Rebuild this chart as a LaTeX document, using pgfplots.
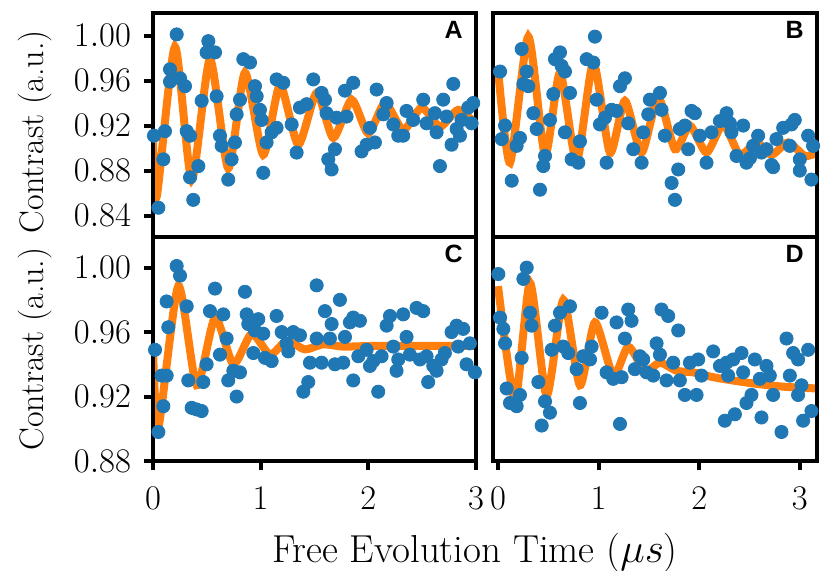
\documentclass[border=0pt]{standalone}
\usepackage{fontspec}
\newfontfamily\panelfont{Liberation Sans}
\usepackage{pgfplots}
\pgfplotsset{compat=1.18}

\definecolor{tabblue}{HTML}{1F77B4}
\definecolor{taborange}{HTML}{FF7F0E}

\pgfplotsset{
  panel/.style={
    scale only axis,
    height=112pt,
    axis line style={line width=2pt},
    tick align=outside,
    tick pos=left,
    major tick length=4.5pt,
    major tick style={black, line width=2pt},
    tick label style={font=\fontsize{18}{21}\selectfont},
    label style={font=\fontsize{17}{20}\selectfont},
    y tick label style={xshift=-3pt, /pgf/number format/fixed,
      /pgf/number format/fixed zerofill, /pgf/number format/precision=2},
    x tick label style={yshift=-5pt},
    ylabel shift=4pt,
    axis on top,
    clip=true,
  },
  leftcol/.style={width=161.5pt, xmin=0, xmax=3, xtick={0,1,2,3}},
  rightcol/.style={width=162pt, xmin=-0.05, xmax=3.17, xtick={0,1,2,3}, ytick=\empty},
  toprow/.style={ymin=0.821, ymax=1.020, ytick={0.84,0.88,0.92,0.96,1.00}, xtick=\empty},
  botrow/.style={ymin=0.88, ymax=1.019, ytick={0.88,0.92,0.96,1.00}},
  dots/.style={only marks, mark=*, mark size=3.3pt, color=tabblue,
    mark options={draw=tabblue, fill=tabblue}},
  fit/.style={taborange, line width=4pt, smooth, tension=0.4, no marks},
}
\newcommand{\plabel}[1]{\node[anchor=north east, inner sep=0pt, xshift=-6.5pt, yshift=-3.8pt,
  font=\panelfont\bfseries\fontsize{12.5}{14}\selectfont] at (rel axis cs:1,1) {#1};}

\begin{document}
\begin{tikzpicture}
\path[use as bounding box] (-76.5pt,-54.5pt) rectangle (334pt,230.5pt);

% C
\begin{axis}[panel, leftcol, botrow, at={(0pt,0pt)}, anchor=south west,
  ylabel={Contrast (a.u.)}]
\addplot[dots] coordinates {
(0.019,0.949)(0.050,0.898)(0.096,0.914)(0.080,0.933)(0.127,0.979)(0.142,0.963)(0.127,0.933)
(0.220,1.001)(0.251,0.995)(0.313,0.976)(0.328,0.930)(0.359,0.913)(0.405,0.912)(0.452,0.911)
(0.467,0.929)(0.498,0.940)(0.529,0.973)(0.576,0.987)(0.622,0.946)(0.653,0.971)(0.684,0.956)
(0.699,0.930)(0.746,0.936)(0.808,0.935)(0.777,0.920)(0.854,0.985)(0.870,0.971)(0.885,0.965)
(0.932,0.947)(0.947,0.961)(0.978,0.968)(1.024,0.959)(1.040,0.944)(1.102,0.942)(1.148,0.970)
(1.195,0.960)(1.241,0.953)(1.257,0.948)(1.303,0.960)(1.365,0.958)(1.396,0.923)(1.442,0.929)
(1.458,0.941)(1.520,0.956)(1.520,0.989)(1.566,0.941)(1.597,0.973)(1.643,0.956)(1.659,0.965)
(1.690,0.940)(1.736,0.980)(1.767,0.941)(1.783,0.957)(1.829,0.966)(1.860,0.969)(1.922,0.967)
(1.860,0.930)(1.907,0.945)(1.984,0.949)(2.015,0.939)(2.046,0.942)(2.092,0.923)(2.123,0.945)
(2.170,0.964)(2.201,0.970)(2.324,0.971)(2.232,0.951)(2.278,0.943)(2.262,0.936)(2.355,0.957)
(2.386,0.946)(2.448,0.975)(2.510,0.973)(2.479,0.943)(2.541,0.945)(2.556,0.929)(2.603,0.939)
(2.634,0.936)(2.680,0.943)(2.711,0.947)(2.773,0.960)(2.820,0.964)(2.835,0.951)(2.881,0.962)
(2.912,0.940)(2.943,0.953)(2.990,0.935)
};
\addplot[fit] coordinates {
(0.000,0.949)(0.050,0.901)(0.235,0.9885)(0.405,0.927)(0.576,0.969)(0.746,0.940)(0.916,0.959)
(1.086,0.946)(1.241,0.9545)(1.411,0.9493)(1.582,0.9524)(1.767,0.951)(2.046,0.9514)(2.500,0.9514)
(3.000,0.9514)
};
\plabel{C}
\end{axis}

% A
\begin{axis}[panel, leftcol, toprow, at={(0pt,112pt)}, anchor=south west,
  ylabel={Contrast (a.u.)}, ylabel style={at={(ticklabel cs:0.47)}}]
\addplot[dots] coordinates {
(0.220,1.001)(0.158,0.970)(0.158,0.959)(0.251,0.962)(0.297,0.955)(0.111,0.915)(0.096,0.890)
(0.050,0.847)(0.009,0.911)(0.374,0.854)(0.344,0.874)(0.421,0.884)(0.313,0.915)(0.344,0.911)
(0.452,0.942)(0.514,0.995)(0.498,0.985)(0.576,0.985)(0.591,0.946)(0.622,0.911)(0.638,0.902)
(0.699,0.872)(0.730,0.890)(0.761,0.905)(0.808,0.943)(0.777,0.930)(0.839,0.979)(0.901,0.976)
(0.947,0.955)(0.963,0.946)(0.993,0.934)(1.009,0.925)(1.024,0.878)(1.055,0.905)(1.102,0.914)
(1.148,0.961)(1.210,0.958)(1.148,0.918)(1.288,0.921)(1.334,0.896)(1.365,0.936)(1.427,0.939)
(1.489,0.961)(1.566,0.949)(1.597,0.943)(1.612,0.931)(1.628,0.890)(1.659,0.881)(1.690,0.899)
(1.705,0.927)(1.783,0.951)(1.860,0.958)(1.798,0.928)(1.937,0.897)(1.984,0.903)(2.061,0.905)
(2.015,0.918)(2.077,0.952)(2.139,0.930)(2.170,0.940)(2.232,0.921)(2.278,0.911)(2.324,0.911)
(2.355,0.933)(2.417,0.925)(2.510,0.943)(2.541,0.922)(2.618,0.931)(2.634,0.914)(2.665,0.884)
(2.696,0.943)(2.727,0.928)(2.773,0.903)(2.789,0.957)(2.820,0.917)(2.851,0.911)(2.866,0.925)
(2.928,0.936)(2.959,0.922)(2.974,0.940)
};
\addplot[fit] coordinates {
(0.000,0.905)(0.035,0.857)(0.204,0.990)(0.359,0.872)(0.529,0.979)(0.699,0.882)(0.854,0.967)
(1.024,0.894)(1.179,0.956)(1.349,0.903)(1.520,0.949)(1.674,0.909)(1.845,0.943)(1.999,0.913)
(2.154,0.940)(2.324,0.916)(2.495,0.936)(2.665,0.919)(2.835,0.934)(3.000,0.921)
};
\plabel{A}
\end{axis}

% D
\begin{axis}[panel, rightcol, botrow, ytick=\empty, at={(170pt,0pt)}, anchor=south west]
\addplot[dots] coordinates {
(0.003,0.996)(0.020,0.969)(0.053,0.962)(0.070,0.953)(0.086,0.925)(0.119,0.916)(0.185,0.914)
(0.218,0.921)(0.235,0.944)(0.252,0.993)(0.285,1.000)(0.318,0.972)(0.334,0.964)(0.401,0.929)
(0.434,0.902)(0.467,0.917)(0.516,0.910)(0.533,0.949)(0.566,0.964)(0.616,0.972)(0.715,0.976)
(0.649,0.951)(0.698,0.947)(0.781,0.937)(0.814,0.916)(0.847,0.945)(0.914,0.943)(0.930,0.951)
(1.029,0.972)(1.079,0.935)(1.145,0.931)(1.228,0.932)(1.178,0.966)(1.212,0.903)(1.261,0.956)
(1.294,0.974)(1.327,0.967)(1.360,0.937)(1.410,0.945)(1.443,0.943)(1.476,0.935)(1.543,0.933)
(1.576,0.953)(1.609,0.946)(1.625,0.974)(1.691,0.970)(1.675,0.930)(1.741,0.941)(1.791,0.961)
(1.807,0.930)(1.857,0.921)(1.973,0.921)(1.907,0.941)(1.989,0.943)(2.022,0.933)(2.138,0.948)
(2.205,0.939)(2.271,0.941)(2.337,0.943)(2.254,0.905)(2.354,0.909)(2.287,0.933)(2.420,0.947)
(2.436,0.935)(2.469,0.916)(2.519,0.921)(2.552,0.943)(2.668,0.939)(2.602,0.931)(2.618,0.907)
(2.701,0.933)(2.734,0.921)(2.817,0.898)(2.867,0.956)(2.900,0.933)(2.933,0.947)(2.982,0.943)
(2.982,0.921)(3.016,0.927)(3.032,0.905)(3.115,0.911)(3.082,0.949)
};
\addplot[fit] coordinates {
(0.000,0.9885)(0.169,0.918)(0.318,0.9905)(0.483,0.9205)(0.649,0.980)(0.814,0.927)(0.963,0.966)
(1.145,0.933)(1.294,0.951)(1.460,0.936)(1.609,0.941)(1.774,0.936)(1.940,0.935)(2.138,0.932)
(2.469,0.9287)(2.800,0.9263)(3.170,0.925)
};
\plabel{D}
\end{axis}

% B
\begin{axis}[panel, rightcol, toprow, ytick=\empty, at={(170pt,112pt)}, anchor=south west]
\addplot[dots] coordinates {
(0.020,0.968)(0.070,0.920)(0.036,0.908)(0.136,0.871)(0.185,0.902)(0.218,0.909)(0.235,0.988)
(0.252,0.957)(0.285,0.968)(0.301,0.955)(0.351,0.931)(0.384,0.917)(0.417,0.863)(0.450,0.884)
(0.467,0.893)(0.516,0.925)(0.549,0.948)(0.566,0.979)(0.616,0.985)(0.632,0.973)(0.665,0.968)
(0.665,0.914)(0.715,0.949)(0.732,0.890)(0.798,0.887)(0.814,0.906)(0.881,0.979)(0.947,0.976)
(0.963,0.999)(0.980,0.943)(1.013,0.921)(1.063,0.927)(1.079,0.887)(1.129,0.934)(1.178,0.933)
(1.212,0.955)(1.261,0.962)(1.294,0.922)(1.344,0.899)(1.427,0.887)(1.443,0.914)(1.493,0.930)
(1.509,0.943)(1.609,0.949)(1.625,0.934)(1.658,0.911)(1.725,0.869)(1.758,0.854)(1.791,0.881)
(1.807,0.917)(1.857,0.920)(1.890,0.899)(1.923,0.933)(1.956,0.931)(2.006,0.911)(2.072,0.887)
(2.122,0.914)(2.205,0.924)(2.271,0.931)(2.304,0.922)(2.320,0.914)(2.370,0.893)(2.436,0.920)
(2.469,0.887)(2.503,0.891)(2.536,0.902)(2.585,0.911)(2.618,0.896)(2.668,0.899)(2.718,0.885)
(2.734,0.883)(2.767,0.908)(2.834,0.918)(2.916,0.921)(2.949,0.925)(2.900,0.902)(2.999,0.890)
(2.999,0.880)(3.082,0.911)(3.115,0.872)(3.131,0.902)
};
\addplot[fit] coordinates {
(0.000,0.970)(0.119,0.887)(0.301,0.999)(0.467,0.894)(0.616,0.967)(0.781,0.888)(0.947,0.976)
(1.112,0.896)(1.261,0.942)(1.427,0.896)(1.592,0.945)(1.758,0.899)(1.907,0.920)(2.072,0.896)
(2.238,0.921)(2.403,0.894)(2.569,0.905)(2.718,0.894)(2.883,0.905)(3.049,0.893)(3.170,0.896)
};
\plabel{B}
\end{axis}

\node[anchor=base, font=\fontsize{19.5}{22}\selectfont] at (161pt,-50.5pt)
  {Free Evolution Time ($\mu s$)};
\end{tikzpicture}
\end{document}
